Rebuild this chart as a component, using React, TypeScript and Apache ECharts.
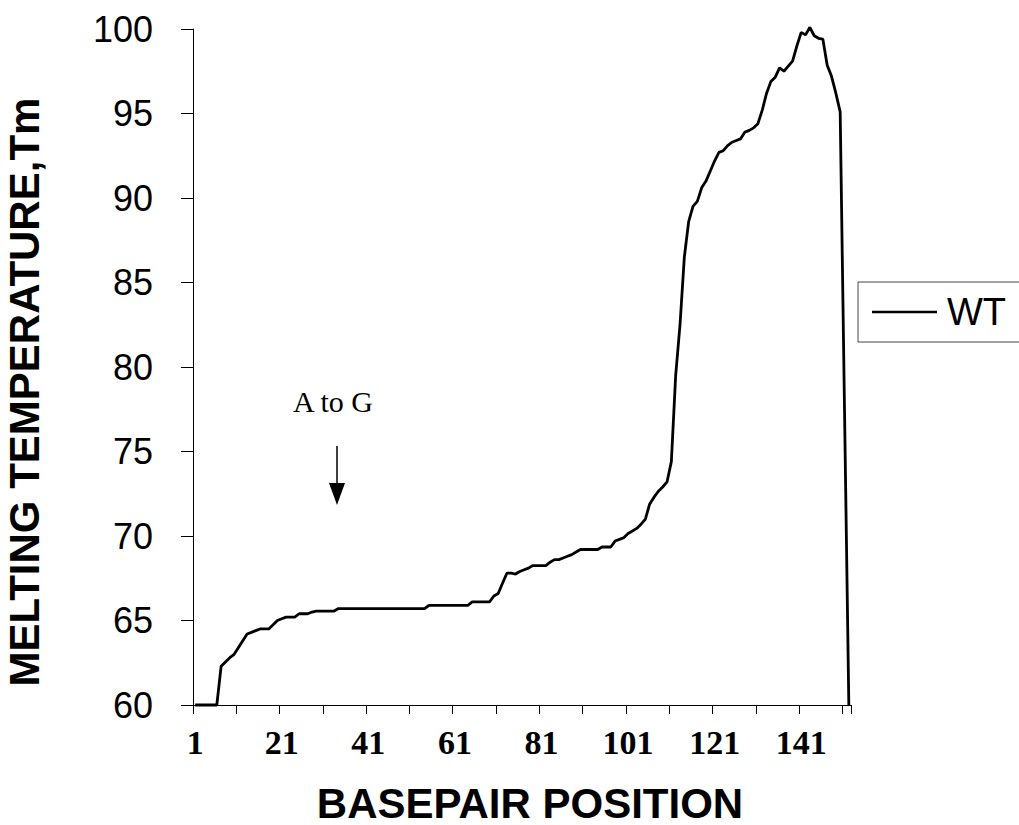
import React, { useEffect, useRef } from "react";
import * as echarts from "echarts";

// Basepair positions (category axis), 1..152
const positions: string[] = Array.from({ length: 152 }, (_, i) => String(i + 1));

// Melting temperature (Tm) of the WT sequence
const wtTm: number[] = [
  60, 60, 60, 60, 60, 60,
  62.3, 62.55, 62.8, 63.0, 63.4, 63.8,
  64.2, 64.3, 64.4, 64.5, 64.5, 64.5,
  64.75, 65.0, 65.1, 65.2, 65.2, 65.2,
  65.4, 65.4, 65.4, 65.5, 65.55, 65.55,
  65.55, 65.55, 65.55, 65.7, 65.7, 65.7,
  65.7, 65.7, 65.7, 65.7, 65.7, 65.7, 65.7, 65.7, 65.7,
  65.7, 65.7, 65.7, 65.7, 65.7, 65.7, 65.7, 65.7, 65.7,
  65.9, 65.9, 65.9, 65.9, 65.9, 65.9, 65.9, 65.9, 65.9, 65.9,
  66.1, 66.1, 66.1, 66.1, 66.1,
  66.45, 66.6, 67.2, 67.8, 67.8, 67.75,
  67.9, 68.0, 68.1, 68.25, 68.25, 68.25,
  68.25, 68.45, 68.6, 68.6, 68.7, 68.8,
  68.9, 69.05, 69.2, 69.2, 69.2, 69.2,
  69.2, 69.35, 69.35, 69.35, 69.7, 69.8,
  69.9, 70.15, 70.3, 70.45, 70.7, 71.0,
  71.9, 72.3, 72.65, 72.9, 73.2, 74.4,
  79.5, 82.5, 86.5, 88.6, 89.5, 89.8,
  90.6, 91.0, 91.6, 92.2, 92.7, 92.8,
  93.1, 93.3, 93.4, 93.5, 93.9, 94.0,
  94.15, 94.4, 95.2, 96.2, 96.9, 97.15,
  97.7, 97.5, 97.8, 98.1, 99.0, 99.8,
  99.65, 100.1, 99.6, 99.45, 99.4, 97.85,
  97.2, 96.2, 95.1, 77.5, 60,
];

const seriesName = "WT";
const yMin = 60;
const yMax = 100;
const yStep = 5;
const annotationText = "A to G";
const xTitle = "BASEPAIR POSITION";
const yTitle = "MELTING TEMPERATURE,Tm";

export default function App() {
  const ref = useRef<HTMLDivElement>(null);

  useEffect(() => {
    if (!ref.current) return;
    const chart = echarts.init(ref.current, null, { renderer: "svg" });
    chart.setOption({
      animation: false,
      backgroundColor: "#ffffff",
      grid: { left: 193, right: 168, top: 29, bottom: 120, containLabel: false },
      legend: {
        show: true,
        data: [seriesName],
        left: 858,
        top: 282,
        orient: "vertical",
        borderColor: "#444",
        borderWidth: 1,
        padding: [11, 40, 11, 14],
        icon: "rect",
        itemWidth: 65,
        itemHeight: 2.5,
        textStyle: {
          fontFamily: "Liberation Sans",
          fontSize: 38,
          color: "#000",
          padding: [0, 0, 0, 5],
        },
      },
      xAxis: {
        type: "category",
        data: positions,
        boundaryGap: true,
        axisLine: { show: true, lineStyle: { color: "#000", width: 1 } },
        axisTick: {
          show: true,
          interval: (i: number) => i % 10 === 0,
          length: 9,
          lineStyle: { color: "#000", width: 1 },
        },
        axisLabel: {
          interval: (i: number) => i % 20 === 0,
          fontFamily: "Liberation Serif",
          fontWeight: "bold",
          fontSize: 34,
          color: "#000",
          margin: 20,
        },
        splitLine: { show: false },
      },
      yAxis: {
        type: "value",
        min: yMin,
        max: yMax,
        interval: yStep,
        axisLine: { show: true, lineStyle: { color: "#000", width: 1 } },
        axisTick: { show: true, length: 12, lineStyle: { color: "#000", width: 1 } },
        axisLabel: {
          fontFamily: "Liberation Sans",
          fontSize: 36,
          color: "#000",
          margin: 40,
        },
        splitLine: { show: false },
      },
      series: [
        {
          name: seriesName,
          type: "line",
          data: wtTm,
          symbol: "none",
          showSymbol: false,
          clip: false,
          color: "#000",
          itemStyle: { color: "#000" },
          lineStyle: { color: "#000", width: 2.8 },
        },
      ],
      graphic: [
        {
          type: "text",
          x: 333,
          y: 401,
          style: {
            text: annotationText,
            fontFamily: "Liberation Serif",
            fontSize: 30,
            fill: "#000",
            align: "center",
            verticalAlign: "middle",
          },
        },
        {
          type: "line",
          shape: { x1: 337, y1: 446, x2: 337, y2: 488 },
          style: { stroke: "#000", lineWidth: 1.5 },
        },
        {
          type: "polygon",
          shape: { points: [[329, 483], [345, 483], [337, 505]] },
          style: { fill: "#000" },
        },
        {
          type: "text",
          x: 24,
          y: 392,
          rotation: Math.PI / 2,
          style: {
            text: yTitle,
            fontFamily: "Liberation Sans",
            fontWeight: "bold",
            fontSize: 42,
            fill: "#000",
            align: "center",
            verticalAlign: "middle",
          },
        },
        {
          type: "text",
          x: 530,
          y: 803,
          style: {
            text: xTitle,
            fontFamily: "Liberation Sans",
            fontWeight: "bold",
            fontSize: 42,
            fill: "#000",
            align: "center",
            verticalAlign: "middle",
          },
        },
      ],
    });
    return () => chart.dispose();
  }, []);

  return (
    <div
      ref={ref}
      style={{ position: "fixed", left: 0, top: 0, width: 1019, height: 825, background: "#fff" }}
    />
  );
}
